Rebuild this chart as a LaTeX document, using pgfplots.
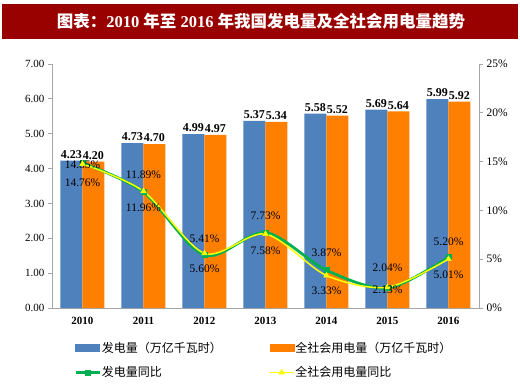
\documentclass[border=0pt]{standalone}
\usepackage{pgfplots}
\pgfplotsset{compat=1.18}
\usepackage{fontspec}
\setmainfont{Liberation Serif}
\newfontfamily\cjk{Noto Sans CJK SC}
\definecolor{barblue}{HTML}{4F81BD}
\definecolor{barorange}{HTML}{FF7F00}
\definecolor{lgreen}{HTML}{00B050}
\definecolor{lyellow}{HTML}{FFFF00}
\definecolor{titlered}{HTML}{990000}
\definecolor{axgray}{HTML}{A6A6A6}

\pgfplotsset{
  mylegline/.style={legend image code/.code={\draw[mark repeat=2,mark phase=2,##1] plot coordinates {(0pt,0pt) (12pt,0pt) (24pt,0pt)};}},
}

\pgfplotstableread{
x gen cons
0 4.23 4.20
1 4.73 4.70
2 4.99 4.97
3 5.37 5.34
4 5.58 5.52
5 5.69 5.64
6 5.99 5.92
}\bars

\pgfplotstableread{
x y dy
0 14.85 -2
1 11.89 17
2 5.41 16
3 7.73 17
4 3.87 17
5 2.04 20
6 5.20 15
}\greenline

\pgfplotstableread{
x y dy
0 14.76 -19
1 11.96 -16
2 5.60 -15
3 7.58 -17
4 3.33 -15.5
5 2.13 -3
6 5.01 -16
}\yellowline

\begin{document}
\begin{tikzpicture}
\path[use as bounding box] (0pt,0pt) rectangle (520pt,386pt);
\fill[titlered] (2pt,347pt) rectangle (518pt,382pt);
\node[white, font=\fontsize{16.5}{16.5}\selectfont\bfseries] at (261pt,364.5pt) {{\cjk 图表：}2010 {\cjk 年至} 2016 {\cjk 年我国发电量及全社会用电量趋势}};

\begin{axis}[
  at={(52pt,78pt)}, anchor=south west, scale only axis,
  width=427pt, height=244pt,
  xmin=-0.5, xmax=6.5, ymin=0, ymax=7,
  ybar=0pt, bar width=22pt,
  axis x line*=bottom, axis y line*=left,
  axis line style={axgray, line width=0.8pt},
  xtick={0,...,6},
  xticklabels={2010,2011,2012,2013,2014,2015,2016},
  x tick style={draw=none},
  x tick label style={font=\fontsize{11}{11}\selectfont\bfseries, yshift=-2pt},
  ytick={0,1,...,7},
  yticklabel={\pgfmathprintnumber[fixed,fixed zerofill,precision=2]{\tick}},
  y tick label style={font=\fontsize{11}{11}\selectfont},
  y tick style={axgray, line width=0.8pt},
  tick align=outside, major tick length=4pt,
  /pgf/number format/assume math mode=true,
  nodes near coords={\pgfmathprintnumber[fixed,fixed zerofill,precision=2]{\pgfplotspointmeta}},
  every node near coord/.append style={font=\fontsize{12}{12}\selectfont\bfseries, text=black, inner sep=2pt},
]
\addplot[fill=barblue, draw=none] table[x=x, y=gen] {\bars};
\addplot[fill=barorange, draw=none] table[x=x, y=cons] {\bars};
\end{axis}

\begin{axis}[
  at={(52pt,78pt)}, anchor=south west, scale only axis,
  width=427pt, height=244pt,
  xmin=-0.5, xmax=6.5, ymin=0, ymax=25,
  axis x line=none, axis y line*=right,
  axis line style={axgray, line width=0.8pt},
  ytick={0,5,...,25},
  yticklabel={\pgfmathprintnumber{\tick}\%},
  y tick label style={font=\fontsize{11.5}{11.5}\selectfont},
  y tick style={axgray, line width=0.8pt},
  tick align=outside, major tick length=4pt,
  /pgf/number format/assume math mode=true,
  legend columns=2,
  legend style={at={(0.0515,-0.138)}, anchor=north west, draw=none, fill=none,
    inner sep=0pt, font=\fontsize{12}{12}\selectfont, row sep=13pt,
    nodes={inner xsep=1pt, inner ysep=0pt}},
  legend cell align=left,
]
\addlegendimage{legend image code/.code={\fill[barblue] (0pt,-3.5pt) rectangle (24pt,3.5pt);}}
\addlegendentry{\makebox[166pt][l]{\cjk 发电量（万亿千瓦时）}}
\addlegendimage{legend image code/.code={\fill[barorange] (0pt,-3.5pt) rectangle (24pt,3.5pt);}}
\addlegendentry{\cjk 全社会用电量（万亿千瓦时）}

\addplot[lgreen, line width=2.8pt, smooth, mark=square*, mark size=2.5pt,
  mark options={line width=0.5pt, fill=lgreen}, mylegline,
  visualization depends on={\thisrow{dy}\as\labdy},
  nodes near coords={\pgfmathprintnumber[fixed,fixed zerofill,precision=2]{\pgfplotspointmeta}\%},
  every node near coord/.append style={anchor=center, yshift=\labdy pt, text=black, font=\fontsize{11.5}{11.5}\selectfont}]
  table[x=x, y=y] {\greenline};
\addlegendentry{\cjk 发电量同比}

\addplot[lyellow, line width=1.5pt, smooth, mark=triangle*, mark size=3.2pt,
  mark options={line width=0.5pt, fill=lyellow}, mylegline,
  visualization depends on={\thisrow{dy}\as\labdy},
  nodes near coords={\pgfmathprintnumber[fixed,fixed zerofill,precision=2]{\pgfplotspointmeta}\%},
  every node near coord/.append style={anchor=center, yshift=\labdy pt, text=black, font=\fontsize{11.5}{11.5}\selectfont}]
  table[x=x, y=y] {\yellowline};
\addlegendentry{\cjk 全社会用电量同比}
\end{axis}
\end{tikzpicture}
\end{document}
